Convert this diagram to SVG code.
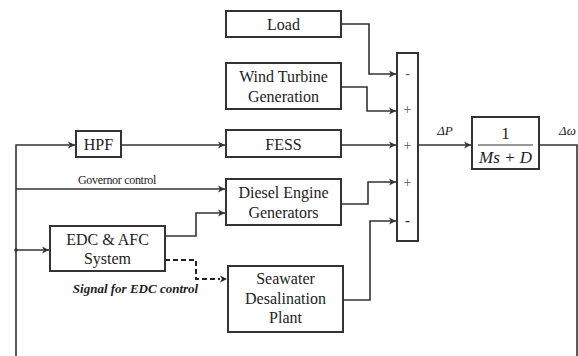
<svg xmlns="http://www.w3.org/2000/svg" width="578" height="356" viewBox="0 0 578 356">
<defs>
<marker id="ah" markerWidth="8" markerHeight="8" refX="7" refY="4" orient="auto" markerUnits="userSpaceOnUse">
<path d="M0,0.5 L7,4 L0,7.5 L2,4 Z" fill="#333"/>
</marker>
</defs>
<style>
.box{fill:#fff;stroke:#333;stroke-width:2}
.ln{fill:none;stroke:#333;stroke-width:1.6}
.dash{fill:none;stroke:#222;stroke-width:2;stroke-dasharray:5,3}
</style>
<rect width="578" height="356" fill="#fff"/>
<g id="connectors">
<path class="ln" d="M16,356 V145 H75" marker-end="url(#ah)"/>
<path class="ln" d="M121,145 H225" marker-end="url(#ah)"/>
<path class="ln" d="M341,24 H369 V74 H396" marker-end="url(#ah)"/>
<path class="ln" d="M341,87 H367 V111 H396" marker-end="url(#ah)"/>
<path class="ln" d="M341,145 H396" marker-end="url(#ah)"/>
<path class="ln" d="M341,204 H368 V182 H396" marker-end="url(#ah)"/>
<path class="ln" d="M343,300 H370 V221 H396" marker-end="url(#ah)"/>
<path class="ln" d="M418,145 H471" marker-end="url(#ah)"/>
<path class="ln" d="M539,145 H577 V356"/>
<path class="ln" d="M16,189 H225" marker-end="url(#ah)"/>
<path class="ln" d="M16,250 H49" marker-end="url(#ah)"/>
<circle cx="16" cy="250" r="1.8" fill="#333"/>
<path class="ln" d="M165,236 H196 V213 H225" marker-end="url(#ah)"/>
<path class="dash" d="M165,260 H196 V279 H220"/>
<path d="M220,275.5 L227,279 L220,282.5 L222,279 Z" fill="#222"/>
<text x="117" y="184" font-family="Liberation Serif" fill="#222" font-size="12" text-anchor="middle" letter-spacing="-0.3">Governor control</text>
<text x="135.5" y="293" font-family="Liberation Serif" fill="#222" font-size="13" text-anchor="middle" font-weight="bold" font-style="italic">Signal for EDC control</text>
<text x="445" y="135" font-family="Liberation Serif" fill="#222" font-size="13" text-anchor="middle" font-style="italic">ΔP</text>
<text x="559" y="135" font-family="Liberation Serif" fill="#222" font-size="13" font-style="italic">Δω</text>
</g>
<g id="load"><rect class="box" x="226" y="11" width="115" height="26"/><text font-family="Liberation Serif" fill="#222" font-size="16" text-anchor="middle" x="283.5" y="30">Load</text></g>
<g id="wind"><rect class="box" x="226" y="63" width="115" height="46"/><text font-family="Liberation Serif" fill="#222" font-size="16" text-anchor="middle" x="283.5" y="82">Wind Turbine</text><text font-family="Liberation Serif" fill="#222" font-size="16" text-anchor="middle" x="283.5" y="102">Generation</text></g>
<g id="hpf"><rect class="box" x="76" y="131" width="45" height="26"/><text font-family="Liberation Serif" fill="#222" font-size="16" text-anchor="middle" x="98.5" y="149.5">HPF</text></g>
<g id="fess"><rect class="box" x="226" y="130" width="115" height="27"/><text font-family="Liberation Serif" fill="#222" font-size="16" text-anchor="middle" x="283.5" y="149.5">FESS</text></g>
<g id="diesel"><rect class="box" x="226" y="179" width="115" height="46"/><text font-family="Liberation Serif" fill="#222" font-size="16" text-anchor="middle" x="283.5" y="198">Diesel Engine</text><text font-family="Liberation Serif" fill="#222" font-size="16" text-anchor="middle" x="283.5" y="218">Generators</text></g>
<g id="edc"><rect class="box" x="50" y="226" width="115" height="45"/><text font-family="Liberation Serif" fill="#222" font-size="16" text-anchor="middle" x="107.5" y="245">EDC &amp; AFC</text><text font-family="Liberation Serif" fill="#222" font-size="16" text-anchor="middle" x="107.5" y="264">System</text></g>
<g id="seawater"><rect class="box" x="228" y="266" width="115" height="66"/><text font-family="Liberation Serif" fill="#222" font-size="16" text-anchor="middle" x="285.5" y="284">Seawater</text><text font-family="Liberation Serif" fill="#222" font-size="16" text-anchor="middle" x="285.5" y="304">Desalination</text><text font-family="Liberation Serif" fill="#222" font-size="16" text-anchor="middle" x="285.5" y="323">Plant</text></g>
<g id="sum"><rect class="box" x="397" y="53" width="21" height="188"/>
<text font-family="Liberation Serif" fill="#555" font-size="14" text-anchor="middle" x="407.5" y="78">-</text>
<text font-family="Liberation Serif" fill="#555" font-size="14" text-anchor="middle" x="407.5" y="114">+</text>
<text font-family="Liberation Serif" fill="#555" font-size="14" text-anchor="middle" x="407.5" y="150">+</text>
<text font-family="Liberation Serif" fill="#555" font-size="14" text-anchor="middle" x="407.5" y="187">+</text>
<text font-family="Liberation Serif" fill="#222" font-size="15" text-anchor="middle" font-weight="bold" x="407.5" y="225">-</text>
</g>
<g id="tf"><rect class="box" x="472" y="117" width="67" height="52"/>
<text font-family="Liberation Serif" fill="#222" font-size="17" text-anchor="middle" x="505.5" y="139">1</text>
<line x1="478" y1="145" x2="533" y2="145" stroke="#333" stroke-width="1"/>
<text font-family="Liberation Serif" fill="#222" font-size="17" text-anchor="middle" font-style="italic" x="505.5" y="163">Ms + D</text>
</g>
</svg>
